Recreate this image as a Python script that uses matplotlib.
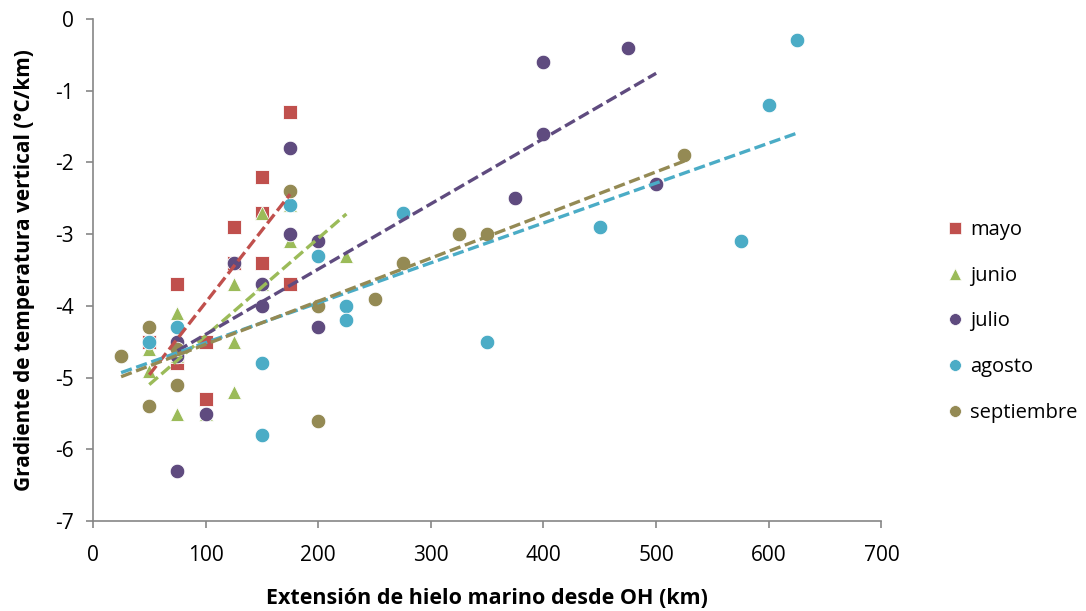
import numpy as np
import matplotlib
matplotlib.use("Agg")
import matplotlib.pyplot as plt

# Monthly observations: sea-ice extent from OH (km) vs vertical temperature gradient (°C/km)
months = ["mayo", "junio", "julio", "agosto", "septiembre"]

mayo_x = [50, 75, 75, 100, 100, 125, 125, 150, 150, 150, 175, 175]
mayo_y = [-4.5, -3.7, -4.8, -4.5, -5.3, -2.9, -3.4, -2.2, -2.7, -3.4, -1.3, -3.7]

junio_x = [50, 50, 75, 75, 75, 100, 125, 125, 125, 150, 150, 175, 175, 225]
junio_y = [-4.6, -4.9, -4.1, -4.7, -5.5, -5.5, -3.7, -4.5, -5.2, -2.7, -3.7, -2.6, -3.1, -3.3]

julio_x = [75, 75, 75, 100, 125, 150, 150, 175, 175, 200, 200, 375, 400, 400, 475, 500]
julio_y = [-4.5, -4.7, -6.3, -5.5, -3.4, -3.7, -4.0, -1.8, -3.0, -3.1, -4.3, -2.5, -0.6, -1.6, -0.4, -2.3]

agosto_x = [25, 50, 75, 150, 150, 175, 200, 200, 225, 225, 275, 350, 450, 575, 600, 625]
agosto_y = [-4.7, -4.5, -4.3, -4.8, -5.8, -2.6, -3.3, -4.0, -4.0, -4.2, -2.7, -4.5, -2.9, -3.1, -1.2, -0.3]

sept_x = [25, 50, 50, 75, 75, 175, 200, 200, 250, 275, 325, 350, 525]
sept_y = [-4.7, -4.3, -5.4, -4.6, -5.1, -2.4, -4.0, -5.6, -3.9, -3.4, -3.0, -3.0, -1.9]

x_ticks = [0, 100, 200, 300, 400, 500, 600, 700]
y_ticks = [0, -1, -2, -3, -4, -5, -6, -7]

series = [
    (mayo_x, mayo_y, "s", "#C0504D"),
    (junio_x, junio_y, "^", "#9BBB59"),
    (julio_x, julio_y, "o", "#5F4B7F"),
    (agosto_x, agosto_y, "o", "#4BACC6"),
    (sept_x, sept_y, "o", "#948A54"),
]

plt.rcParams["font.family"] = ["Open Sans", "DejaVu Sans"]

fig = plt.figure(figsize=(10.86, 6.11), dpi=100)
ax = fig.add_axes([0.0856, 0.147, 0.726, 0.822])

sizes = {"s": 10, "^": 10.5, "o": 10.5}
handles = []
for (xs, ys, mk, col), name in zip(series, months):
    h, = ax.plot(xs, ys, linestyle="none", marker=mk, markersize=sizes[mk],
                 color=col, markeredgecolor="white", markeredgewidth=0.6,
                 zorder=2, label=name)
    handles.append(h)

# Linear trend lines over each month's data range
for xs, ys, mk, col in series:
    xa = np.asarray(xs, float)
    ya = np.asarray(ys, float)
    k, b = np.polyfit(xa, ya, 1)
    xl = np.array([xa.min(), xa.max()])
    ax.plot(xl, k * xl + b, linestyle=(0, (3.4, 1.4)), linewidth=2.4,
            color=col, zorder=3)

ax.set_xlim(0, 700)
ax.set_ylim(-7, 0)
ax.set_xticks(x_ticks)
ax.set_yticks(y_ticks)
ax.set_xticklabels([str(v) for v in x_ticks])
ax.set_yticklabels([str(v) for v in y_ticks])

for side in ("top", "right"):
    ax.spines[side].set_visible(False)
for side in ("left", "bottom"):
    ax.spines[side].set_color("#868686")
    ax.spines[side].set_linewidth(1.2)
ax.tick_params(axis="both", colors="#868686", length=5, width=1.2,
               labelcolor="black", labelsize=15, direction="out")
ax.tick_params(axis="x", pad=12)
ax.tick_params(axis="y", pad=9)

ax.set_xlabel("Extensión de hielo marino desde OH (km)", fontsize=15.5,
              fontweight="bold", labelpad=16)
ax.set_ylabel("Gradiente de temperatura vertical (°C/km)", fontsize=15,
              fontweight="bold", labelpad=14)

leg_handles = []
for h in handles:
    m = h.get_marker()
    leg_handles.append(plt.Line2D([], [], linestyle="none", marker=m,
                                  markersize=8.5, color=h.get_color(),
                                  markeredgecolor="white", markeredgewidth=0.5))
fig.legend(leg_handles, months, loc="center left",
           bbox_to_anchor=(0.868, 0.474), frameon=False, fontsize=14.5,
           handletextpad=0.15, labelspacing=1.28, handlelength=1.2,
           borderaxespad=0, borderpad=0)

fig.savefig("out.png", dpi=100)
